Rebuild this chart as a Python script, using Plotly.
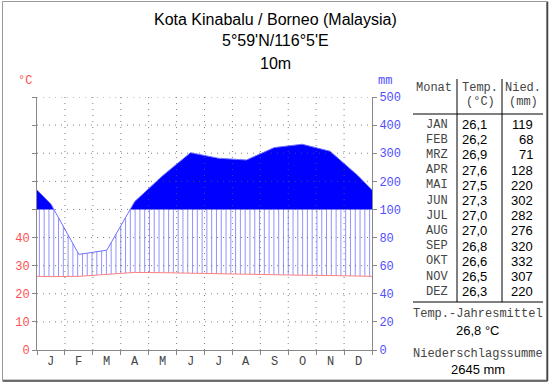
import numpy as np
import plotly.graph_objects as go

# ---------------- data ----------------
months_short = ["J", "F", "M", "A", "M", "J", "J", "A", "S", "O", "N", "D"]
months_table = ["JAN", "FEB", "MRZ", "APR", "MAI", "JUN", "JUL", "AUG", "SEP", "OKT", "NOV", "DEZ"]
temp = [26.1, 26.2, 26.9, 27.6, 27.5, 27.3, 27.0, 27.0, 26.8, 26.6, 26.5, 26.3]
prec = [119, 68, 71, 128, 220, 302, 282, 276, 320, 332, 307, 220]
temp_text = ["26,1", "26,2", "26,9", "27,6", "27,5", "27,3", "27,0", "27,0", "26,8", "26,6", "26,5", "26,3"]
left_ticks = [0, 10, 20, 30, 40]
right_labels = ["0", "20", "40", "60", "80", "100", "200", "300", "400", "500"]
title_lines = ["Kota Kinabalu / Borneo (Malaysia)", "5°59'N/116°5'E", "10m"]
mean_temp_text = "26,8 °C"
sum_prec_text = "2645 mm"

W, H = 550, 384
L, R, T, B = 37, 372, 97, 350  # plot area in pixels


def px(x):
    return (x - L) / (R - L)


def py(y):
    return (B - y) / (B - T)


def sc(p):
    return p / 2 if p <= 100 else 50 + (p - 100) / 10


# curves through month centres, closed at the edges with Dec/Jan mean
xs = [0] + [i + 0.5 for i in range(12)] + [12]
p_edge = (sc(prec[0]) + sc(prec[-1])) / 2
t_edge = (temp[0] + temp[-1]) / 2
ps = [p_edge] + [sc(p) for p in prec] + [p_edge]
ts = [t_edge] + temp + [t_edge]

# fill polygon above the 100 mm line (include crossing points)
fx, fy = [], []
for i in range(len(xs) - 1):
    x0, x1, y0, y1 = xs[i], xs[i + 1], ps[i], ps[i + 1]
    fx.append(x0)
    fy.append(max(y0, 50))
    if (y0 - 50) * (y1 - 50) < 0:
        xc = x0 + (50 - y0) / (y1 - y0) * (x1 - x0)
        fx.append(xc)
        fy.append(50)
fx.append(xs[-1])
fy.append(max(ps[-1], 50))

# hatch lines
n_h = 70
hx = [(k + 0.5) * 12 / n_h for k in range(n_h)]
ht = np.interp(hx, xs, ts)
hp = np.interp(hx, xs, ps)
hxs, hys = [], []
for x, t, p in zip(hx, ht, hp):
    hxs += [x, x, None]
    hys += [t, min(p, 50), None]

fig = go.Figure()
fig.add_trace(go.Scatter(x=hxs, y=hys, mode="lines",
                         line=dict(color="rgba(110,110,255,0.75)", width=1),
                         hoverinfo="skip", showlegend=False))
fig.add_trace(go.Scatter(x=[0, 12], y=[50, 50], mode="lines",
                         line=dict(color="rgba(0,0,0,0)", width=0),
                         hoverinfo="skip", showlegend=False))
fig.add_trace(go.Scatter(x=fx, y=fy, mode="lines", fill="tonexty",
                         fillcolor="#0000ff", line=dict(color="rgba(0,0,0,0)", width=0),
                         hoverinfo="skip", showlegend=False))
fig.add_trace(go.Scatter(x=xs, y=ps, mode="lines",
                         line=dict(color="#7070ff", width=1),
                         hoverinfo="skip", showlegend=False))
fig.add_trace(go.Scatter(x=xs, y=ts, mode="lines",
                         line=dict(color="#ff8080", width=1),
                         hoverinfo="skip", showlegend=False))
# invisible trace to activate right axis
fig.add_trace(go.Scatter(x=[0], y=[0], yaxis="y2", mode="markers",
                         marker=dict(opacity=0), hoverinfo="skip", showlegend=False))

mono = "Liberation Mono"
sans = "Liberation Sans"

fig.update_layout(
    width=W, height=H,
    margin=dict(l=L, r=W - R, t=T, b=H - B, pad=0),
    paper_bgcolor="white", plot_bgcolor="white",
    xaxis=dict(range=[0, 12], tickvals=list(range(13)), showticklabels=False,
               ticks="outside", ticklen=4, tickcolor="#888", showgrid=False,
               showline=True, linecolor="#888", linewidth=1, zeroline=False, fixedrange=True),
    yaxis=dict(range=[0, 90], tickvals=list(range(0, 91, 10)),
               ticktext=[str(v) if v in left_ticks else "" for v in range(0, 91, 10)],
               ticks="outside", ticklen=4, tickcolor="#888",
               tickfont=dict(family=mono, size=12, color="#ff5050"),
               showgrid=False, showline=True, linecolor="#888", zeroline=False, fixedrange=True),
    yaxis2=dict(range=[0, 90], overlaying="y", side="right",
                tickvals=list(range(0, 91, 10)), ticktext=right_labels,
                ticks="outside", ticklen=4, tickcolor="#888",
                tickfont=dict(family=mono, size=12, color="#5050ff"),
                showgrid=False, showline=True, linecolor="#888", zeroline=False, fixedrange=True),
)

shapes = []
# dotted grid lines above the fill
for v in range(10, 91, 10):
    shapes.append(dict(type="line", xref="x", yref="y", x0=0, x1=12, y0=v, y1=v,
                       line=dict(color="rgba(90,90,90,0.75)", width=1, dash="1px,5px"), layer="above"))
for m in range(1, 12):
    shapes.append(dict(type="line", xref="x", yref="y", x0=m, x1=m, y0=0, y1=90,
                       line=dict(color="rgba(90,90,90,0.75)", width=1, dash="1px,5px"), layer="above"))

# table lines
shapes.append(dict(type="line", xref="paper", yref="paper", x0=px(413), x1=px(543),
                   y0=py(114), y1=py(114), line=dict(color="#000", width=1)))
shapes.append(dict(type="line", xref="paper", yref="paper", x0=px(413), x1=px(543),
                   y0=py(302), y1=py(302), line=dict(color="#000", width=1)))
for xv in (457, 502):
    shapes.append(dict(type="line", xref="paper", yref="paper", x0=px(xv), x1=px(xv),
                       y0=py(79), y1=py(302), line=dict(color="#000", width=1)))
# frame
shapes.append(dict(type="rect", xref="paper", yref="paper", x0=px(2.5), x1=px(546.5),
                   y0=py(1.5), y1=py(380), line=dict(color="#999", width=1)))
shapes.append(dict(type="line", xref="paper", yref="paper", x0=px(547.5), x1=px(547.5),
                   y0=py(1.5), y1=py(381), line=dict(color="#444", width=1.5)))
shapes.append(dict(type="line", xref="paper", yref="paper", x0=px(2.5), x1=px(547.5),
                   y0=py(381), y1=py(381), line=dict(color="#444", width=1.5)))
fig.update_layout(shapes=shapes)

ann = []


def text(x, y, s, family=sans, size=12, color="#000", xanchor="center"):
    ann.append(dict(x=px(x), y=py(y), xref="paper", yref="paper", text=s, showarrow=False,
                    xanchor=xanchor, yanchor="middle", font=dict(family=family, size=size, color=color)))


for i, t in enumerate(title_lines):
    text(275, 19 + 22 * i, t, size=16)

text(25, 81, "°C", family=mono, size=12, color="#ff5050")
text(385, 81, "mm", family=mono, size=12, color="#5050ff")

for i, m in enumerate(months_short):
    ann.append(dict(x=i + 0.5, y=py(362), xref="x", yref="paper", text=m, showarrow=False,
                    xanchor="center", yanchor="middle", font=dict(family=mono, size=12, color="#444")))

gray = "#444"
text(434, 88, "Monat", family=mono, size=12, color=gray)
text(480, 88, "Temp.", family=mono, size=12, color=gray)
text(480, 102, "(°C)", family=mono, size=12, color=gray)
text(523, 88, "Nied.", family=mono, size=12, color=gray)
text(523, 102, "(mm)", family=mono, size=12, color=gray)

for i in range(12):
    yy = 124.5 + i * 15.2
    text(437, yy, months_table[i], family=mono, size=12, color=gray)
    text(489, yy, temp_text[i], size=13, xanchor="right")
    text(535, yy, str(prec[i]), size=13, xanchor="right")

text(478, 314, "Temp.-Jahresmittel", family=mono, size=12, color=gray)
text(478, 330, mean_temp_text, size=13)
text(478, 354, "Niederschlagssumme", family=mono, size=12, color=gray)
text(478, 369, sum_prec_text, size=13)

fig.update_layout(annotations=ann)
fig.write_html("out.html", config={"displayModeBar": False},
               post_script="document.body.style.margin='0';document.body.style.overflow='hidden';")
